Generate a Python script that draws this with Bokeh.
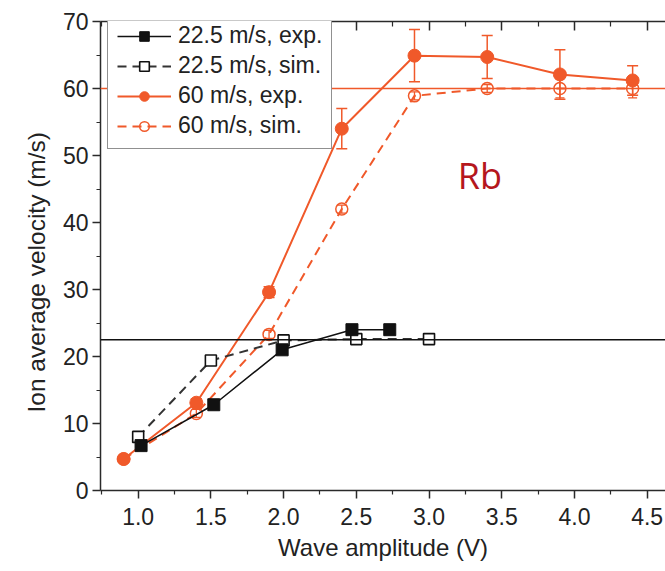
from bokeh.plotting import figure
from bokeh.models import (ColumnDataSource, Span, Whisker, TeeHead, Legend, LegendItem,
                          LinearAxis, FixedTicker, Range1d, Label, Title)
from bokeh.embed import file_html
from bokeh.resources import INLINE

# ---------------- data ----------------
x_black_exp = [1.02, 1.52, 1.99, 2.47, 2.73]
y_black_exp = [6.7, 12.8, 21.0, 24.0, 24.0]

x_black_sim = [1.0, 1.5, 2.0, 2.5, 3.0]
y_black_sim = [8.0, 19.4, 22.4, 22.6, 22.6]
err_black_sim = [0.4, 0.4, 0.4, 0.4, 0.4]

x_orange = [0.9, 1.4, 1.9, 2.4, 2.9, 3.4, 3.9, 4.4]
y_orange_exp = [4.7, 13.1, 29.6, 54.0, 64.9, 64.7, 62.1, 61.2]
err_orange_exp = [0.4, 0.6, 0.8, 3.0, 3.9, 3.2, 3.7, 2.2]
y_orange_sim = [4.7, 11.5, 23.3, 42.0, 58.9, 60.0, 60.0, 60.0]
err_orange_sim = [0.6, 0.6, 0.6, 0.6, 0.6, 0.6, 1.4, 1.4]

ref_black = 22.5
ref_orange = 60.0

legend_labels = ["22.5 m/s, exp.", "22.5 m/s, sim.", "60 m/s, exp.", "60 m/s, sim."]
x_ticks = [1.0, 1.5, 2.0, 2.5, 3.0, 3.5, 4.0, 4.5]
x_tick_labels = ["1.0", "1.5", "2.0", "2.5", "3.0", "3.5", "4.0", "4.5"]
x_minor = [0.75, 1.25, 1.75, 2.25, 2.75, 3.25, 3.75, 4.25]
y_ticks = [0, 10, 20, 30, 40, 50, 60, 70]
y_minor = [5, 15, 25, 35, 45, 55, 65]
x_title = "Wave amplitude (V)"
y_title = "Ion average velocity (m/s)"
annotation = "Rb"
annot_x, annot_y = 3.35, 47.0

ORANGE = "#f0592a"
BLACK = "#111111"
AXC = "#2a2a2a"
FONT = "Liberation Sans"

p = figure(width=665, height=571, x_range=Range1d(0.741, 4.626), y_range=Range1d(0, 70),
           output_backend="svg", toolbar_location=None,
           min_border_left=100, min_border_right=0, min_border_top=21, min_border_bottom=81,
           outline_line_color=None, background_fill_color="white", border_fill_color="white")
p.xgrid.visible = False
p.ygrid.visible = False

xt = FixedTicker(ticks=x_ticks, minor_ticks=x_minor)
yt = FixedTicker(ticks=y_ticks, minor_ticks=y_minor)

xa = p.xaxis[0]
xa.ticker = xt
xa.major_label_overrides = {t: l for t, l in zip(x_ticks, x_tick_labels)}
ya = p.yaxis[0]
ya.ticker = yt

for ax in (xa, ya):
    ax.axis_line_color = AXC
    ax.axis_line_width = 1.5
    ax.major_tick_line_color = AXC
    ax.minor_tick_line_color = AXC
    ax.major_tick_line_width = 1.5
    ax.minor_tick_line_width = 1.2
    ax.major_tick_in = 0
    ax.major_tick_out = 8
    ax.minor_tick_in = 0
    ax.minor_tick_out = 4
    ax.major_label_text_font = FONT
    ax.major_label_text_font_size = "23px"
    ax.major_label_text_color = "#222222"
    ax.axis_label_text_font = FONT
    ax.axis_label_text_font_size = "24px"
    ax.axis_label_text_font_style = "normal"
    ax.axis_label_text_color = "#222222"

xa.axis_label = x_title
xa.major_label_standoff = 9
xa.axis_label_standoff = 6
ya.major_label_standoff = 4

# y-axis title as a side title so it can sit slightly below the centre, as in the reference
p.add_layout(Title(text=y_title, align="left", offset=78, text_font=FONT,
                   text_font_size="24.5px", text_font_style="normal", text_color="#222222",
                   standoff=20), "left")

top = LinearAxis(ticker=xt, major_label_text_font_size="8px", major_label_text_color=None,
                 axis_line_color=AXC,
                 axis_line_width=1.5, major_tick_line_color=AXC, minor_tick_line_color=AXC,
                 major_tick_line_width=1.5, minor_tick_line_width=1.2,
                 major_tick_in=9, major_tick_out=0, minor_tick_in=5, minor_tick_out=0,
                 major_label_standoff=0)
p.add_layout(top, "above")

# reference lines
p.add_layout(Span(location=ref_orange, dimension="width", line_color=ORANGE, line_width=1.5))
p.add_layout(Span(location=ref_black, dimension="width", line_color=BLACK, line_width=1.3))

# sources
src_os = ColumnDataSource(dict(x=x_orange, y=y_orange_sim,
                               lo=[a - b for a, b in zip(y_orange_sim, err_orange_sim)],
                               hi=[a + b for a, b in zip(y_orange_sim, err_orange_sim)]))
src_oe = ColumnDataSource(dict(x=x_orange, y=y_orange_exp,
                               lo=[a - b for a, b in zip(y_orange_exp, err_orange_exp)],
                               hi=[a + b for a, b in zip(y_orange_exp, err_orange_exp)]))
src_bs = ColumnDataSource(dict(x=x_black_sim, y=y_black_sim,
                               lo=[a - b for a, b in zip(y_black_sim, err_black_sim)],
                               hi=[a + b for a, b in zip(y_black_sim, err_black_sim)]))
src_be = ColumnDataSource(dict(x=x_black_exp, y=y_black_exp))

# orange sim
r_os_l = p.line("x", "y", source=src_os, line_color=ORANGE, line_width=2, line_dash="9 6")
p.add_layout(Whisker(source=src_os, base="x", upper="hi", lower="lo", line_color=ORANGE,
                     line_width=1.3,
                     upper_head=TeeHead(size=9, line_color=ORANGE, line_width=1.3),
                     lower_head=TeeHead(size=9, line_color=ORANGE, line_width=1.3)))
r_os_m = p.scatter("x", "y", source=src_os, marker="circle", size=12, fill_color="white",
                   fill_alpha=0.0, line_color=ORANGE, line_width=1.5)

# orange exp
r_oe_l = p.line("x", "y", source=src_oe, line_color=ORANGE, line_width=2)
p.add_layout(Whisker(source=src_oe, base="x", upper="hi", lower="lo", line_color=ORANGE,
                     line_width=1.5,
                     upper_head=TeeHead(size=11, line_color=ORANGE, line_width=1.5),
                     lower_head=TeeHead(size=11, line_color=ORANGE, line_width=1.5)))
r_oe_m = p.scatter("x", "y", source=src_oe, marker="circle", size=13, fill_color=ORANGE,
                   line_color=ORANGE)

# black sim
r_bs_l = p.line("x", "y", source=src_bs, line_color="#333333", line_width=2, line_dash="9 6")
r_bs_m = p.scatter("x", "y", source=src_bs, marker="square", size=11, fill_color="white",
                   line_color=BLACK, line_width=1.6)
p.add_layout(Whisker(source=src_bs, base="x", upper="hi", lower="lo", line_color=BLACK,
                     line_width=1.0,
                     upper_head=TeeHead(size=7, line_color=BLACK, line_width=1.0),
                     lower_head=TeeHead(size=7, line_color=BLACK, line_width=1.0)))

# black exp
r_be_l = p.line("x", "y", source=src_be, line_color=BLACK, line_width=1.5)
r_be_m = p.scatter("x", "y", source=src_be, marker="square", size=12, fill_color=BLACK,
                   line_color=BLACK)

p.add_layout(Label(x=annot_x, y=annot_y, text=annotation, text_font="Open Sans",
                   text_font_size="36px", text_color="#b5171d", text_align="center",
                   text_baseline="middle"))

legend = Legend(items=[
    LegendItem(label=legend_labels[0], renderers=[r_be_l, r_be_m]),
    LegendItem(label=legend_labels[1], renderers=[r_bs_l, r_bs_m]),
    LegendItem(label=legend_labels[2], renderers=[r_oe_l, r_oe_m]),
    LegendItem(label=legend_labels[3], renderers=[r_os_l, r_os_m]),
], location=(7, 341))
legend.padding = 9
legend.margin = 0
legend.spacing = 3
legend.glyph_height = 24
legend.label_height = 24
legend.glyph_width = 54
legend.label_standoff = 7
legend.label_text_font = FONT
legend.label_text_font_size = "23px"
legend.label_text_color = "#222222"
legend.border_line_color = "#222222"
legend.border_line_width = 1.5
legend.background_fill_color = "white"
legend.background_fill_alpha = 1.0
p.add_layout(legend)

open("out.html", "w").write(file_html(p, INLINE))
